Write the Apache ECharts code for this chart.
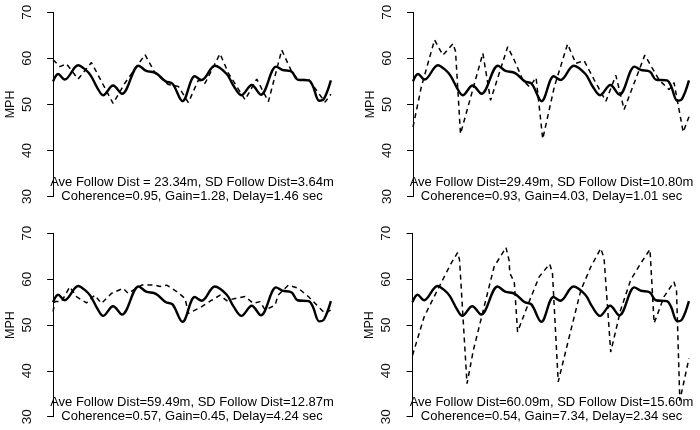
<!DOCTYPE html>
<html>
<head>
<meta charset="utf-8">
<script src="https://cdn.jsdelivr.net/npm/echarts@6/dist/echarts.min.js"></script>
<style>
html,body{margin:0;padding:0;background:#fff;}
#c{width:700px;height:430px;}
</style>
</head>
<body>
<div id="c"></div>
<script>
// Lead vehicle speed (solid), shared by all panels
var leadT = [0, 1.8, 4.2, 9.0, 11.5, 13.5, 16.0, 18.0, 21.6, 24.8, 30.8, 33.5, 37.0, 40.5, 43.0, 46.6, 51.0, 53.5, 58.2, 62.5, 65.0, 67.8, 71.5, 74.8, 80.3, 82.5, 85.9, 88.0, 92.0, 93.5, 95.8, 97.5, 100];
var leadV = [55.0, 56.6, 55.4, 58.5, 57.6, 56.3, 53.5, 52.0, 54.1, 52.3, 58.4, 57.3, 56.8, 55.0, 54.5, 50.7, 56.1, 55.3, 58.4, 56.6, 54.0, 52.0, 54.2, 52.1, 58.2, 57.5, 57.1, 55.4, 55.2, 54.0, 50.8, 51.2, 55.2];

// Follower speeds (dashed)
var f1T = [0, 2.4, 4.8, 9.0, 13.8, 21.6, 25.8, 33.1, 36.7, 41.5, 45.1, 48.7, 52.3, 54.7, 60.1, 63.1, 69.1, 73.3, 77.5, 82.3, 85.9, 88.3, 91.9, 97.9, 100];
var f1V = [59.7, 58.2, 58.8, 55.5, 59.1, 50.2, 54.6, 60.8, 56.8, 54.3, 53.9, 50.4, 55.3, 54.6, 61.0, 56.8, 51.0, 55.5, 50.6, 61.8, 57.1, 55.3, 55.5, 50.5, 52.2];

var f2T = [0, 3.0, 7.8, 10.8, 14.5, 15.4, 17.2, 25.3, 28.1, 34.3, 36.7, 39.8, 42.2, 44.6, 47.0, 51.2, 56.0, 59.0, 62.0, 65.7, 69.9, 73.5, 76.5, 84.0, 89.2, 92.8, 94.6, 97.9, 100];
var f2V = [45.1, 53.8, 64.0, 60.7, 63.2, 61.5, 43.6, 61.1, 50.9, 62.5, 59.6, 55.3, 53.8, 55.8, 42.5, 53.8, 63.1, 58.9, 59.5, 55.3, 50.7, 56.3, 48.9, 60.7, 55.3, 53.2, 54.7, 44.0, 47.3];

var f3T = [0, 0.6, 3.0, 6.0, 8.4, 12.0, 15.0, 17.4, 21.0, 25.2, 27.0, 31.9, 36.7, 38.5, 40.9, 44.5, 47.5, 48.7, 53.5, 57.1, 60.1, 62.5, 65.5, 69.1, 72.1, 74.5, 76.3, 79.9, 81.0, 84.7, 88.3, 91.9, 95.5, 97.9, 100];
var f3V = [52.9, 55.1, 55.1, 58.3, 56.2, 54.8, 56.5, 54.7, 56.9, 58.0, 56.9, 58.7, 58.7, 58.4, 58.7, 57.3, 55.8, 52.5, 54.0, 55.4, 56.5, 55.3, 55.8, 56.2, 54.7, 55.1, 53.3, 54.3, 56.5, 58.7, 58.0, 56.2, 54.0, 52.5, 53.3];

var f4T = [0, 4.2, 9.0, 13.9, 16.3, 17.0, 19.7, 22.0, 25.9, 29.5, 33.8, 34.9, 35.2, 36.8, 38.0, 42.2, 45.8, 49.6, 50.6, 52.7, 57.0, 60.9, 64.5, 68.1, 69.3, 71.7, 75.3, 78.9, 82.5, 85.9, 87.4, 91.0, 94.6, 95.5, 96.7, 100];
var f4V = [43.4, 51.8, 57.6, 63.4, 65.8, 64.2, 37.2, 44.5, 54.0, 62.7, 66.9, 64.2, 61.3, 59.4, 48.5, 55.1, 60.5, 63.3, 61.5, 37.6, 48.2, 57.6, 62.7, 66.7, 64.5, 44.1, 53.3, 59.8, 63.4, 66.5, 50.4, 56.2, 59.4, 57.5, 33.5, 42.7];

var yTicks = [30, 40, 50, 60, 70];
var line1 = [
  "Ave Follow Dist = 23.34m, SD Follow Dist=3.64m",
  "Ave Follow Dist=29.49m, SD Follow Dist=10.80m",
  "Ave Follow Dist=59.49m, SD Follow Dist=12.87m",
  "Ave Follow Dist=60.09m, SD Follow Dist=15.60m"
];
var line2 = [
  "Coherence=0.95, Gain=1.28, Delay=1.46 sec",
  "Coherence=0.93, Gain=4.03, Delay=1.01 sec",
  "Coherence=0.57, Gain=0.45, Delay=4.24 sec",
  "Coherence=0.54, Gain=7.34, Delay=2.34 sec"
];
var followT = [f1T, f2T, f3T, f4T];
var followV = [f1V, f2V, f3V, f4V];

function zip(t, v) { return t.map(function (x, i) { return [x, v[i]]; }); }

var FONT = "'Liberation Sans', Arial, sans-serif";
var grids = [
  {left: 42, top: 12.3, width: 300, height: 184.2},
  {left: 402, top: 12.3, width: 299, height: 184.2},
  {left: 42, top: 233.3, width: 300, height: 183.4},
  {left: 401.5, top: 233.3, width: 300, height: 183.4}
];

var xAxes = [], yAxes = [], series = [], graphics = [];
grids.forEach(function (g, i) {
  xAxes.push({gridIndex: i, type: 'value', min: -4, max: 104, show: false});
  yAxes.push({
    gridIndex: i, type: 'value', min: yTicks[0], max: yTicks[yTicks.length - 1], interval: 10,
    axisLine: {show: true, lineStyle: {color: '#000', width: 1}},
    axisTick: {show: true, length: 6, lineStyle: {color: '#000', width: 1}},
    splitLine: {show: false},
    axisLabel: {rotate: 90, margin: 8, color: '#111', fontSize: 13.5, fontFamily: FONT},
    name: 'MPH', nameLocation: 'middle', nameGap: 25, nameRotate: 90,
    nameTextStyle: {color: '#111', fontSize: 12.5, fontFamily: FONT}
  });
  series.push({
    type: 'line', xAxisIndex: i, yAxisIndex: i, data: zip(leadT, leadV),
    smooth: 0.35, showSymbol: false, symbol: 'none',
    lineStyle: {color: '#000', width: 2.4}, z: 3, silent: true
  });
  series.push({
    type: 'line', xAxisIndex: i, yAxisIndex: i, data: zip(followT[i], followV[i]),
    smooth: false, showSymbol: false, symbol: 'none',
    lineStyle: {color: '#000', width: 1.5, type: [5, 4]}, z: 2, silent: true
  });
  var cx = g.left + g.width / 2;
  var yBottom = g.top + g.height;
  graphics.push({type: 'text', x: cx, y: yBottom - 14, z: 1,
    style: {text: line1[i], align: 'center', verticalAlign: 'middle', fill: '#000', font: '13px ' + FONT}});
  graphics.push({type: 'text', x: cx, y: yBottom, z: 1,
    style: {text: line2[i], align: 'center', verticalAlign: 'middle', fill: '#000', font: '13px ' + FONT}});
});

var chart = echarts.init(document.getElementById('c'), null, {renderer: 'canvas'});
chart.setOption({
  animation: false,
  backgroundColor: '#fff',
  grid: grids,
  xAxis: xAxes,
  yAxis: yAxes,
  series: series,
  graphic: graphics
});
</script>
</body>
</html>
